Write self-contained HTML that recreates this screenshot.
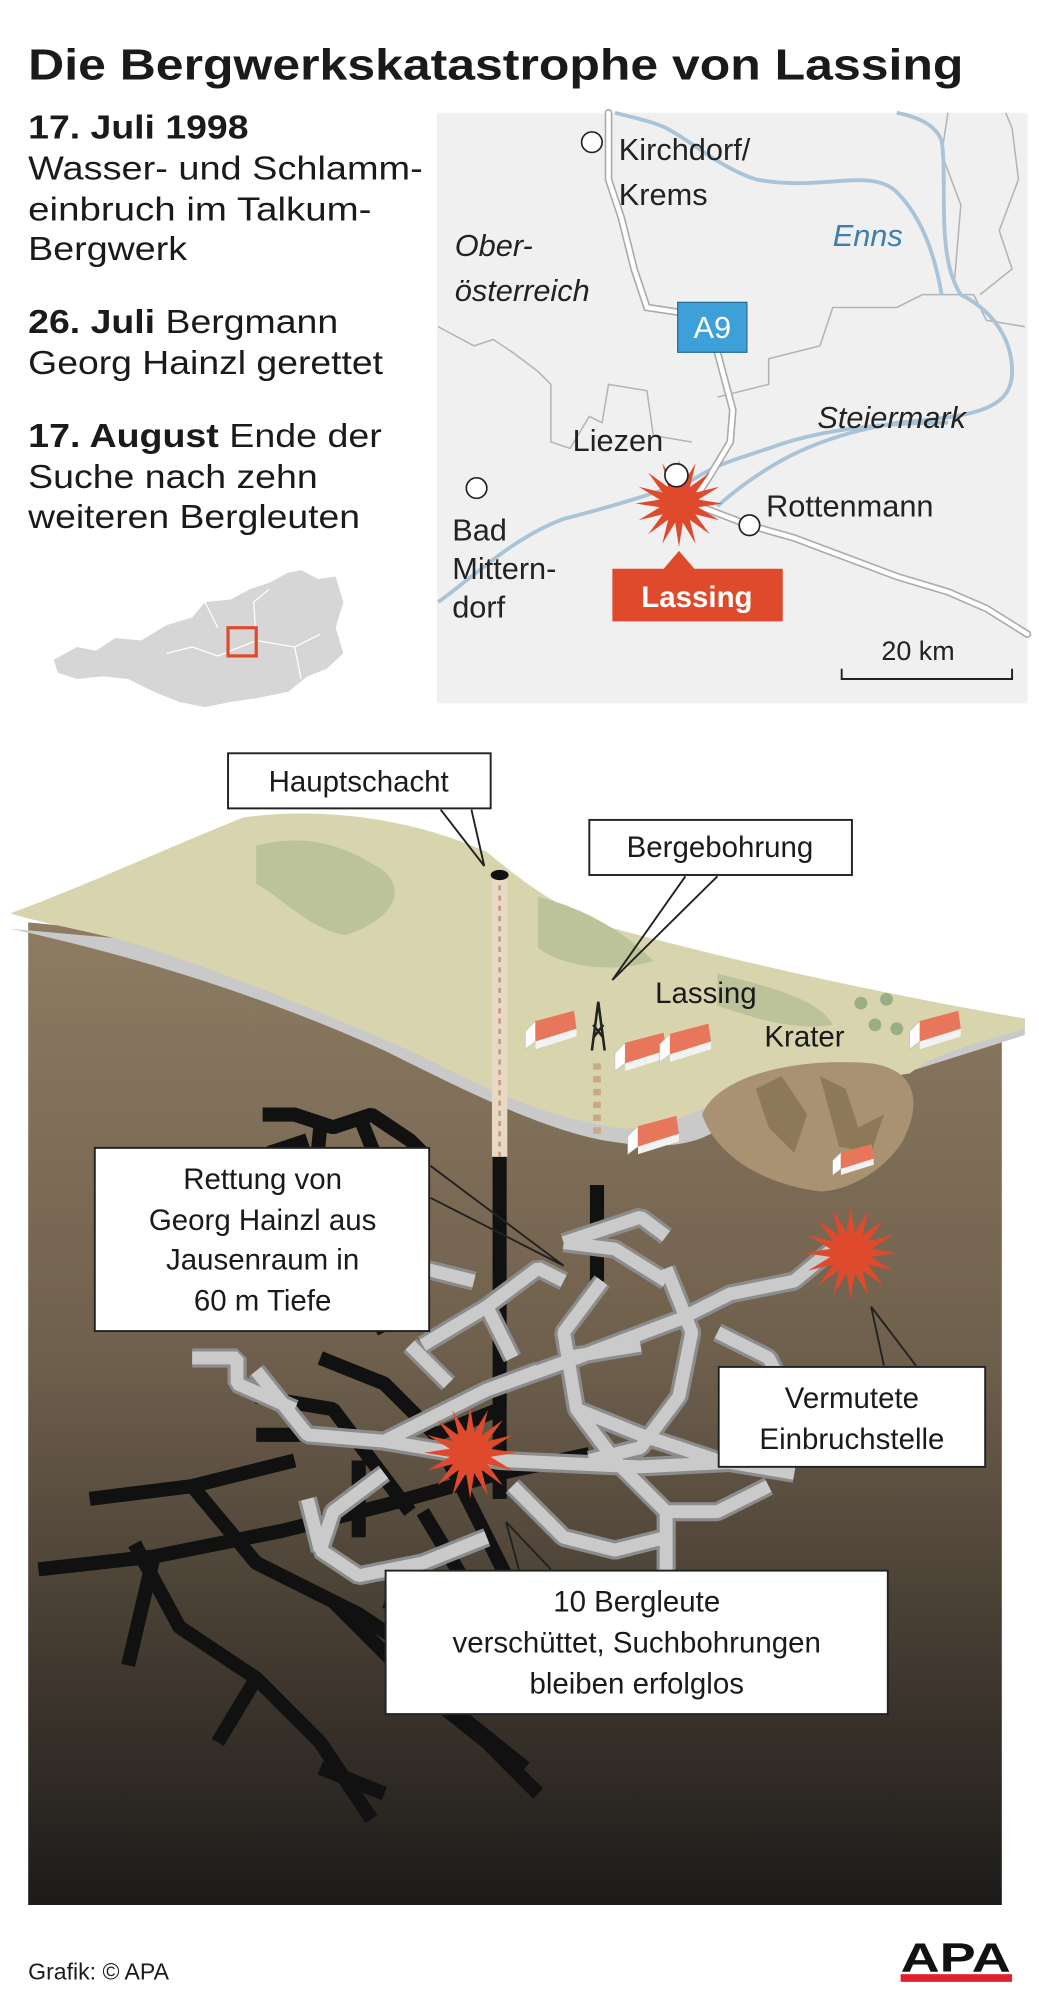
<!DOCTYPE html>
<html><head><meta charset="utf-8"><style>html,body{margin:0;padding:0;background:#fff}svg{display:block}</style></head>
<body>
<svg width="1039" height="2008" viewBox="0 0 1039 2008" xmlns="http://www.w3.org/2000/svg" font-family="'Liberation Sans', sans-serif">
<defs>
<linearGradient id="earth" x1="0" y1="0" x2="0" y2="1">
<stop offset="0" stop-color="#8e7c63"/><stop offset="0.45" stop-color="#6e5f4c"/><stop offset="0.8" stop-color="#3a332b"/><stop offset="1" stop-color="#1c1b1a"/>
</linearGradient>
<polygon id="star" points="1,0 .441,.088 .924,.383 .374,.25 .707,.707 .25,.374 .383,.924 .088,.441 0,1 -.088,.441 -.383,.924 -.25,.374 -.707,.707 -.374,.25 -.924,.383 -.441,.088 -1,0 -.441,-.088 -.924,-.383 -.374,-.25 -.707,-.707 -.25,-.374 -.383,-.924 -.088,-.441 0,-1 .088,-.441 .383,-.924 .25,-.374 .707,-.707 .374,-.25 .924,-.383 .441,-.088" fill="#e04a2c"/>
<g id="house"><polygon points="0,10 8,2 8,18 0,24" fill="#fff" stroke="#bbb" stroke-width=".5"/><polygon points="8,2 38,-6 40,8 8,18" fill="#e8765a"/><polygon points="8,18 40,8 40,14 8,24" fill="#f2f2f2"/></g>
</defs>
<g transform="scale(1.2811)">
<text x="22" y="62" font-size="34" font-weight="bold" fill="#1a1a1a" textLength="730" lengthAdjust="spacingAndGlyphs">Die Bergwerkskatastrophe von Lassing</text>
<g font-size="26" fill="#1a1a1a">
<text x="22" y="108" font-weight="bold" textLength="172" lengthAdjust="spacingAndGlyphs">17. Juli 1998</text>
<text x="22" y="140" textLength="308" lengthAdjust="spacingAndGlyphs">Wasser- und Schlamm-</text>
<text x="22" y="172" textLength="268" lengthAdjust="spacingAndGlyphs">einbruch im Talkum-</text>
<text x="22" y="203" textLength="124" lengthAdjust="spacingAndGlyphs">Bergwerk</text>
<text x="22" y="260" textLength="242" lengthAdjust="spacingAndGlyphs"><tspan font-weight="bold">26. Juli</tspan> Bergmann</text>
<text x="22" y="292" textLength="277" lengthAdjust="spacingAndGlyphs">Georg Hainzl gerettet</text>
<text x="22" y="349" textLength="276" lengthAdjust="spacingAndGlyphs"><tspan font-weight="bold">17. August</tspan> Ende der</text>
<text x="22" y="381" textLength="226" lengthAdjust="spacingAndGlyphs">Suche nach zehn</text>
<text x="22" y="412" textLength="259" lengthAdjust="spacingAndGlyphs">weiteren Bergleuten</text>
</g>
<path d="M42,515 L60,505 75,508 90,498 110,500 130,488 150,482 160,470 180,468 195,460 210,455 225,447 235,445 248,452 262,450 268,470 262,490 268,510 255,522 240,528 225,540 200,545 180,548 160,552 140,548 120,540 100,530 80,528 60,530 45,525 Z" fill="#d6d6d6"/>
<path d="M130,510 L150,505 170,512 200,500 230,505 250,495 M200,500 L198,470 210,460 M160,470 L170,490 M230,505 L235,530" stroke="#fff" stroke-width="1" fill="none"/>
<rect x="178" y="490" width="22" height="22" fill="none" stroke="#e04a2c" stroke-width="2.5"/>
<rect x="341" y="88" width="461" height="461" fill="#f0f0f0"/>
<g fill="none" stroke="#b4b4b4" stroke-width="1.2">
<path d="M342,255 L370,270 385,265 400,275 420,290 430,300 430,345 445,350 460,325 470,330 475,300 505,305 510,340 540,345 M560,310 L600,300 600,280 640,270 650,240 700,240 720,230 760,230 770,250 800,255"/>
<path d="M785,88 L790,100 795,140 780,180 790,210 765,230 M740,88 L735,120 750,160 745,220"/>
</g>
<path d="M560,395 C600,360 640,340 700,330 C760,325 790,320 790,290 C790,260 770,240 750,230 C730,200 740,140 735,110 C730,95 710,90 700,88 M342,470 C370,450 400,420 440,405 C480,395 510,385 540,375 C560,362 570,360 600,350 C640,335 690,330 740,330 M480,88 C495,92 510,95 520,100 C540,110 560,130 590,140 C640,150 680,130 700,150 C720,170 730,200 735,230" stroke="#a9c4d8" stroke-width="3" fill="none"/>
<g fill="none" stroke-linecap="round">
<path d="M475,88 L475,140 485,170 495,210 505,240 545,246 560,275 572,320 570,345 555,370 540,393 M540,393 L585,410 620,420 660,435 700,450 740,462 770,475 802,495" stroke="#aaa" stroke-width="6"/>
<path d="M475,88 L475,140 485,170 495,210 505,240 545,246 560,275 572,320 570,345 555,370 540,393 M540,393 L585,410 620,420 660,435 700,450 740,462 770,475 802,495" stroke="#fff" stroke-width="3.5"/>
</g>
<g fill="#fff" stroke="#222" stroke-width="1.3"><circle cx="462" cy="111" r="8"/><circle cx="372" cy="381" r="8"/><circle cx="585" cy="410" r="8"/></g>
<use href="#star" transform="translate(530,393) scale(34)"/>
<circle cx="528" cy="371" r="9" fill="#fff" stroke="#222" stroke-width="1.3"/>
<g font-size="24" fill="#222">
<text x="483" y="125">Kirchdorf/</text><text x="483" y="160">Krems</text>
<text x="355" y="200" font-style="italic">Ober-</text><text x="355" y="235" font-style="italic">österreich</text>
<text x="650" y="192" font-style="italic" fill="#3a7fb0">Enns</text>
<text x="638" y="334" font-style="italic">Steiermark</text>
<text x="447" y="352">Liezen</text>
<text x="598" y="403">Rottenmann</text>
<text x="353" y="422">Bad</text><text x="353" y="452">Mittern-</text><text x="353" y="482">dorf</text>
<text x="688" y="515" font-size="21">20 km</text>
</g>
<rect x="529" y="236" width="54" height="39" fill="#3da0d8" stroke="#2a6f99" stroke-width="1"/>
<text x="556" y="264" font-size="24" fill="#fff" text-anchor="middle">A9</text>
<polygon points="478,444 518,444 530,430 542,444 611,444 611,485 478,485" fill="#e04a2c"/>
<text x="544" y="474" font-size="23" font-weight="bold" fill="#fff" text-anchor="middle">Lassing</text>
<path d="M657,522 L657,530 790,530 790,522" stroke="#222" stroke-width="1.5" fill="none"/>

<polygon points="22,720 800,795 782,800 782,1487 22,1487" fill="url(#earth)"/>
<g stroke="#111" stroke-width="11" fill="none" stroke-linejoin="bevel">
<path d="M205,870 L230,870 260,880 290,870 320,890 330,900 M250,880 L245,930 M280,870 L300,920 M210,900 L240,890 M240,900 L230,960 M300,900 L320,950"/>
<path d="M30,1225 L120,1215 220,1195 300,1175 390,1150 460,1135 M70,1170 L150,1160 230,1140 M105,1205 L140,1270 200,1310 250,1360 290,1420 M150,1160 L200,1220 260,1250 310,1300 360,1340 410,1380 M200,1090 L260,1100 290,1140 320,1180 M250,1060 L300,1080 340,1120 390,1100 M220,1230 L280,1260 340,1300 M300,1250 L370,1270 430,1290 480,1260 530,1240 M330,1320 L380,1360 420,1400 M250,1380 L300,1400 M120,1215 L100,1300 M200,1310 L170,1360 M240,980 L280,1000 300,1040 M200,1120 L260,1120"/>
<path d="M390,900 L390,1170 M466,925 L466,1000 M330,1180 L360,1230 M350,1140 L380,1200 410,1260 M280,1200 L280,1140 M260,960 L320,960"/>
</g>
<g fill="none" stroke-linejoin="bevel">
<g stroke="#8c8c8c" stroke-width="15">
<path id="gt" d="M150,1060 L185,1060 185,1080 230,1100 M200,1070 L240,1120 300,1125 390,1140 500,1145 600,1140 M300,1125 L330,1110 380,1085 420,1070 M380,1085 L450,1060 530,1030 570,1010 620,1000 650,975 M520,1000 L480,975 440,970 M440,970 L470,960 500,950 520,965 M330,1050 L380,1020 420,990 440,1000 M380,1020 L400,1060 M300,1000 L330,990 370,1000 M320,1050 L350,1080 M520,990 L540,1040 530,1090 500,1130 460,1140 M470,1000 L440,1040 450,1100 480,1140 520,1180 560,1180 600,1160 M450,1100 L500,1120 560,1140 620,1150 M400,1160 L440,1200 480,1210 520,1200 M300,1150 L260,1180 250,1210 280,1230 330,1220 380,1200 M250,1210 L240,1170 M520,1180 L520,1230 M440,1060 L500,1050 M600,1140 L620,1100 600,1060 560,1040"/>
</g>
<use href="#gt" stroke="#cacaca" stroke-width="10"/>
</g>
<path d="M8,725 C100,745 200,775 300,820 C360,850 420,880 470,890 C500,895 530,898 555,885 L800,808 L800,795 Z" fill="#c9c9c9"/>
<path d="M8,713 C70,690 130,662 190,638 C250,630 320,638 380,665 C410,690 440,712 480,725 C580,752 700,778 800,795 L800,803 C760,815 730,822 710,838 L560,860 C520,880 490,885 470,878 C420,870 380,850 320,820 C250,790 180,760 100,735 C60,725 30,720 8,713 Z" fill="#d8d5ae"/>
<path d="M200,660 C240,650 270,660 300,680 C320,700 300,720 270,730 C240,725 220,700 200,690 Z M420,700 C460,710 490,730 510,750 C480,760 440,755 420,740 Z M560,760 C600,770 640,780 650,800 C620,805 590,795 560,785 Z" fill="#bcc39a"/>
<path d="M548,870 C560,840 620,825 680,830 C715,835 720,860 705,890 C690,915 660,930 640,930 C600,925 560,905 548,870 Z" fill="#a89272"/>
<path d="M590,850 L610,840 630,870 620,900 600,880 Z M640,840 L660,850 670,880 690,870 680,900 655,895 Z" fill="#8d7858"/>
<use href="#house" transform="translate(410,795)"/>
<use href="#house" transform="translate(480,812)"/>
<use href="#house" transform="translate(515,805)"/>
<use href="#house" transform="translate(490,877)"/>
<use href="#house" transform="translate(710,795)"/>
<use href="#house" transform="translate(650,898) scale(.8)"/>
<g fill="#9aae86"><circle cx="672" cy="783" r="5"/><circle cx="692" cy="780" r="5"/><circle cx="683" cy="800" r="5"/><circle cx="700" cy="803" r="5"/></g>
<rect x="384" y="683" width="12" height="220" fill="#e8d9c4"/>
<line x1="390" y1="683" x2="390" y2="903" stroke="#c39b7a" stroke-width="2" stroke-dasharray="4,4"/>
<ellipse cx="390" cy="683" rx="7" ry="4" fill="#111"/>
<path d="M462,820 L467,782 472,820 M463,800 L471,810 M471,800 L463,810" stroke="#222" stroke-width="2" fill="none"/>
<line x1="466" y1="830" x2="466" y2="890" stroke="#c8a889" stroke-width="6" stroke-dasharray="5,5"/>
<use href="#star" transform="translate(664,978) scale(36)"/>
<use href="#star" transform="translate(367,1134) scale(36)"/>
<g fill="#fff" stroke="#222" stroke-width="1.5">
<rect x="178" y="588" width="205" height="43"/>
<rect x="460" y="640" width="205" height="43"/>
<rect x="74" y="896" width="261" height="143"/>
<rect x="561" y="1067" width="208" height="78"/>
<rect x="301" y="1226" width="392" height="112"/>
</g>
<g fill="none" stroke="#222" stroke-width="1.5">
<path d="M344,632 L378,676 368,632"/>
<path d="M535,684 L478,765 560,684"/>
<path d="M336,910 L440,988 336,935"/>
<path d="M690,1066 L680,1020 715,1066"/>
<path d="M405,1225 L395,1188 430,1225"/>
</g>
<g font-size="23" fill="#1a1a1a" text-anchor="middle">
<text x="280" y="618">Hauptschacht</text>
<text x="562" y="669">Bergebohrung</text>
<text x="205" y="928">Rettung von</text><text x="205" y="960">Georg Hainzl aus</text><text x="205" y="991">Jausenraum in</text><text x="205" y="1023">60 m Tiefe</text>
<text x="665" y="1099">Vermutete</text><text x="665" y="1131">Einbruchstelle</text>
<text x="497" y="1258">10 Bergleute</text><text x="497" y="1290">verschüttet, Suchbohrungen</text><text x="497" y="1322">bleiben erfolglos</text>
<text x="551" y="783">Lassing</text><text x="628" y="817">Krater</text>
</g>
<text x="22" y="1545" font-size="18" fill="#1a1a1a">Grafik: © APA</text>
<text x="746" y="1539" font-size="32" font-weight="bold" fill="#111" text-anchor="middle" textLength="86" lengthAdjust="spacingAndGlyphs">APA</text>
<rect x="703" y="1541" width="87" height="6" fill="#e0202a"/>
</g>
</svg>
</body></html>
